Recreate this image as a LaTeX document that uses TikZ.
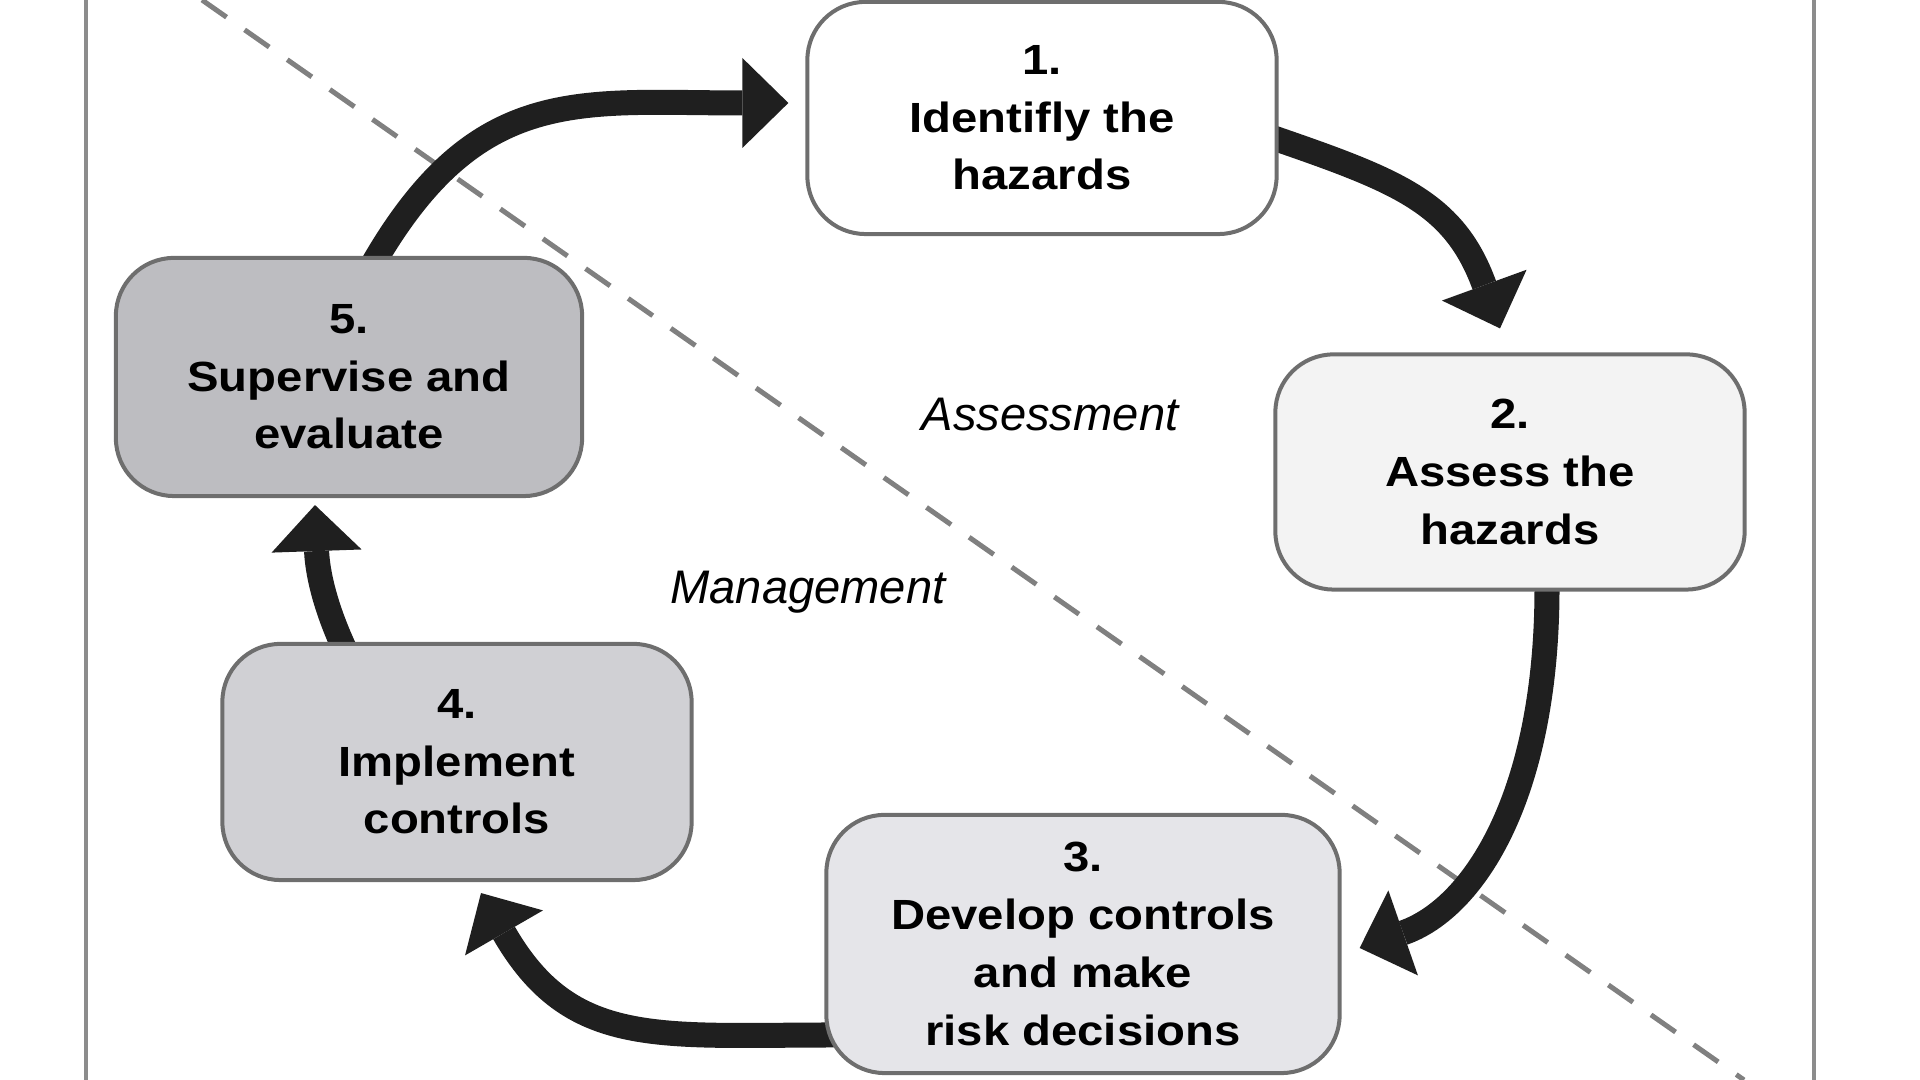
\documentclass[tikz,border=0pt]{standalone}
\usepackage{fontspec}
\setmainfont{Liberation Sans}
\newfontfamily\stagefont[FakeStretch=1.12]{Liberation Sans}
\usetikzlibrary{arrows.meta,positioning,calc,backgrounds}

\definecolor{stageline}{HTML}{6E6E6E}
\definecolor{fillone}{HTML}{FFFFFF}
\definecolor{filltwo}{HTML}{F3F3F3}
\definecolor{fillthree}{HTML}{E5E5E9}
\definecolor{fillfour}{HTML}{D0D0D4}
\definecolor{fillfive}{HTML}{BDBDC1}
\definecolor{splitline}{HTML}{808080}
\definecolor{frameline}{HTML}{8C8C8C}

\begin{document}
\begin{tikzpicture}[x=0.01cm,y=0.01cm,>={Triangle[length=0.46cm,width=0.9cm,line width=0pt]},
    stage/.style={rectangle,rounded corners=0.58cm,draw=stageline,line width=0.04cm,
      minimum width=4.69cm,minimum height=2.35cm,inner sep=0pt,align=center,
      font=\stagefont\bfseries\fontsize{12}{16.4}\selectfont},
    side label/.style={font=\itshape\fontsize{13.4}{16}\selectfont,anchor=base,inner sep=0pt},
    cycle arrow/.style={->,line width=0.25cm,draw=black!88}]
  \useasboundingbox (0,0) rectangle (1920,1080);

  \node[stage,fill=fillone,minimum height=2.32cm] (1) at (1042,962) {1.\\Identifly the\\hazards};
  \node[stage,fill=filltwo] (2) at (1510,608) {2.\\Assess the\\hazards};
  \node[stage,fill=fillthree,minimum width=5.13cm,minimum height=2.58cm] (3) at (1083,136) {3.\\Develop controls\\and make\\risk decisions};
  \node[stage,fill=fillfour,minimum height=2.36cm] (4) at (457,318) {4.\\Implement\\controls};
  \node[stage,fill=fillfive,minimum width=4.66cm,minimum height=2.38cm] (5) at (349,703) {5.\\Supervise and\\evaluate};

  \node[side label] (assess) at (1050,649) {Assessment};
  \node[side label] (manage) at (808,476) {Management};

  % frame sides
  \draw[frameline,line width=0.04cm] (86,0) -- (86,1080);
  \draw[frameline,line width=0.04cm] (1814,0) -- (1814,1080);

  \begin{pgfonlayer}{background}
    \draw[splitline,line width=0.05cm,dash pattern=on 0.3cm off 0.22cm] (202,1080) -- (1744,0);
    \draw[cycle arrow] ($(5.north)+(24,-8)$) to[out=60,in=180,looseness=1.2] ($(1.west)+(-17,15)$);
    \draw[cycle arrow] ($(1.east)+(-8,-19)$) to[out=-19,in=110,looseness=1.15] ($(2.north)+(-10,24)$);
    \draw[cycle arrow] ($(2.south)+(37,8)$) .. controls +(1,-210) and +(115,40) .. ($(3.east)+(18,-4)$);
    \draw[cycle arrow] ($(3.west)+(12,-91)$) to[out=180,in=-60,looseness=1.2] ($(4.south)+(24,-11)$);
    \draw[cycle arrow] ($(4.north)+(-112,-8)$) to[out=115,in=-88] ($(5.south)+(-34,-7)$);
  \end{pgfonlayer}
\end{tikzpicture}
\end{document}
